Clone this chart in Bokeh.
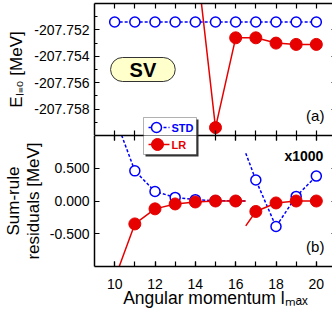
from bokeh.plotting import figure
from bokeh.layouts import column
from bokeh.models import (Range1d, FixedTicker, NumeralTickFormatter, Label, LinearAxis,
                          BoxAnnotation)
from bokeh.embed import file_html
from bokeh.resources import INLINE

FONT = "Liberation Sans"
BLUE = "#0000ff"
RED = "#e60000"

# ---------------- data ----------------
lmax = [10, 11, 12, 13, 14, 15, 16, 17, 18, 19, 20]
e_std = [-207.7514, -207.7514, -207.7514, -207.7514, -207.7514, -207.7514,
         -207.7514, -207.7514, -207.7514, -207.7514, -207.7514]
lr_lmax = [14, 15, 16, 17, 18, 19, 20]
e_lr = [-207.7459, -207.7594, -207.7526, -207.7526, -207.7530, -207.7531, -207.7531]

res_lmax_a = [10, 11, 12, 13, 14, 15, 16]
res_std_a = [1.29, 0.46, 0.145, 0.055, 0.02, 0.005, 0.0]
res_lr_a = [-1.19, -0.35, -0.12, -0.045, -0.015, 0.0, 0.0]
res_lmax_b = [17, 18, 19, 20]
res_std_b = [0.32, -0.39, 0.07, 0.38]
res_lr_b = [-0.16, -0.03, 0.0, 0.0]
# the two line segments stop half way between 16 and 17
break_lmax = 16.5
break_std = [0.0, 0.73]   # end of left segment, start of right segment
break_lr = [0.0, -0.38]

e_ticks = [-207.758, -207.756, -207.754, -207.752]
e_minor = [-207.759, -207.757, -207.755, -207.753, -207.751]
res_ticks = [-0.5, 0.0, 0.5]
x_ticks = [10, 12, 14, 16, 18, 20]
x_all = [10, 11, 12, 13, 14, 15, 16, 17, 18, 19, 20]

X_RANGE = (9, 21)
E_RANGE = (-207.760, -207.750)
RES_RANGE = (-1.0, 1.0)

# ---------------- layout ----------------
LEFT = 88
RIGHT = 2
TOP_B = 3
FW = 242
TOP_FRAME = 132
BOT_FRAME = 131
BOT_B = 44
SX = FW / (X_RANGE[1] - X_RANGE[0])
MID = TOP_B + TOP_FRAME               # page y of panel boundary


def px2x(px):
    return X_RANGE[0] + (px - LEFT) / SX


def x2px(x):
    return LEFT + (x - X_RANGE[0]) * SX


def py2e(py):
    return E_RANGE[1] - (py - TOP_B) / TOP_FRAME * (E_RANGE[1] - E_RANGE[0])


def py2r(py):
    return RES_RANGE[1] - (py - MID) / BOT_FRAME * (RES_RANGE[1] - RES_RANGE[0])


def make_fig(fh, yr, top_b, bot_b):
    p = figure(frame_width=FW, frame_height=fh, x_range=Range1d(*X_RANGE),
               y_range=Range1d(*yr), output_backend="svg", toolbar_location=None,
               x_axis_location=None, y_axis_location=None,
               min_border_left=LEFT, min_border_right=RIGHT,
               min_border_top=top_b, min_border_bottom=bot_b)
    p.grid.visible = False
    p.outline_line_color = None
    p.background_fill_color = "white"
    p.border_fill_color = "white"
    return p


def add_axis(p, loc, ticker, labels, minor_in, fmt=None, standoff=5, **kw):
    ax = LinearAxis(ticker=ticker, axis_line_color="black", axis_line_width=1.5,
                    major_tick_in=5, major_tick_out=0,
                    minor_tick_in=minor_in, minor_tick_out=0,
                    major_tick_line_color="black", minor_tick_line_color="black",
                    major_tick_line_width=1.2, minor_tick_line_width=1.2,
                    major_label_text_font=FONT, major_label_text_color="black",
                    major_label_text_font_size="14px", major_label_standoff=standoff,
                    axis_label_text_font=FONT, axis_label_text_font_style="normal",
                    axis_label_text_color="black", **kw)
    if fmt is not None:
        ax.formatter = fmt
    if not labels:
        ax.major_label_text_font_size = "0px"
        ax.major_label_text_color = None
        ax.major_label_standoff = 0
    p.add_layout(ax, loc)


def label(p, x, y, text, size, color="black", bold=False, align="left",
          baseline="middle", **kw):
    p.add_layout(Label(x=x, y=y, text=text, text_font=FONT, text_font_size=f"{size}px",
                       text_color=color, text_font_style="bold" if bold else "normal",
                       text_align=align, text_baseline=baseline, **kw))


LEG_L = x2px(11.43)
LEG_R = LEG_L + 53
LEG_T, LEG_B = MID - 18, MID + 19


def legend_box(p, ymap, top_px, bot_px):
    p.add_layout(BoxAnnotation(left=px2x(LEG_L + 2), right=px2x(LEG_R + 2),
                               top=ymap(top_px + 2), bottom=ymap(bot_px + 2),
                               fill_color="#333333", fill_alpha=1.0, line_color=None))
    p.add_layout(BoxAnnotation(left=px2x(LEG_L), right=px2x(LEG_R),
                               top=ymap(top_px), bottom=ymap(bot_px),
                               fill_color="white", fill_alpha=1.0,
                               line_color="black", line_width=1))


# ---------------- top panel ----------------
p1 = make_fig(TOP_FRAME, E_RANGE, TOP_B, 0)
xt_top = FixedTicker(ticks=x_all)
et = FixedTicker(ticks=e_ticks, minor_ticks=e_minor)
fmt3 = NumeralTickFormatter(format="0.000")
add_axis(p1, "below", xt_top, False, 0)
add_axis(p1, "above", xt_top, False, 0)
add_axis(p1, "left", et, True, 3, fmt3, axis_label="E\u2097\u208c\u2080 [MeV]",
         axis_label_text_font_size="17px", axis_label_standoff=5)
add_axis(p1, "right", et, False, 3)

p1.line(lmax, e_std, line_color=BLUE, line_width=1.5, line_dash="3 2")
p1.scatter(lmax, e_std, marker="circle", size=10, fill_color="white",
           line_color=BLUE, line_width=1.5)
p1.line(lr_lmax, e_lr, line_color=RED, line_width=1.5)
p1.scatter(lr_lmax, e_lr, marker="circle", size=12, fill_color=RED, line_color=RED)

# legend (upper half)
legend_box(p1, py2e, LEG_T, MID + 30)
y_std = py2e(MID - 8)
label(p1, px2x(LEG_L + 28), y_std, "STD", 11, color=BLUE, bold=True)

# SV box
label(p1, 11.40, -207.7550, "SV", 20, bold=True, align="center",
      background_fill_color="#ffffcc", border_line_color="#333333", border_line_width=1,
      padding=dict(left=19, right=19, top=1, bottom=1), border_radius=12)
label(p1, 20.4, -207.7585, "(a)", 15, align="right")

# ---------------- bottom panel ----------------
p2 = make_fig(BOT_FRAME, RES_RANGE, 0, BOT_B)
xt_bot = FixedTicker(ticks=x_ticks, minor_ticks=x_all)
rt = FixedTicker(ticks=res_ticks, minor_ticks=[])
add_axis(p2, "below", xt_bot, True, 5, standoff=12,
         axis_label="Angular momentum l\u2098\u2090\u2093",
         axis_label_text_font_size="17.5px", axis_label_standoff=-4)
add_axis(p2, "above", xt_bot, False, 5)
add_axis(p2, "left", rt, True, 0, fmt3, axis_label="Sum-rule\nresiduals [MeV]",
         axis_label_text_font_size="17px", axis_label_text_line_height=1.05,
         axis_label_standoff=4)
add_axis(p2, "right", rt, False, 0)

p2.line(res_lmax_a + [break_lmax], res_std_a + [break_std[0]], line_color=BLUE,
        line_width=1.5, line_dash="3 2")
p2.line([break_lmax] + res_lmax_b, [break_std[1]] + res_std_b, line_color=BLUE,
        line_width=1.5, line_dash="3 2")
p2.scatter(res_lmax_a + res_lmax_b, res_std_a + res_std_b, marker="circle", size=10,
           fill_color="white", line_color=BLUE, line_width=1.5)
p2.line(res_lmax_a + [break_lmax], res_lr_a + [break_lr[0]], line_color=RED, line_width=1.5)
p2.line([break_lmax] + res_lmax_b, [break_lr[1]] + res_lr_b, line_color=RED, line_width=1.5)
p2.scatter(res_lmax_a + res_lmax_b, res_lr_a + res_lr_b, marker="circle", size=12,
           fill_color=RED, line_color=RED)

# legend (lower half)
legend_box(p2, py2r, MID - 30, LEG_B)
y_lr = py2r(MID + 9)
label(p2, px2x(LEG_L + 28), y_lr, "LR", 11, color=RED, bold=True)

label(p2, 20.35, py2r(MID + 20), "x1000", 14, bold=True, align="right")
label(p2, 20.4, -0.70, "(b)", 15, align="right")

# legend swatches drawn above the legend boxes
p1.line([px2x(LEG_L + 5), px2x(LEG_L + 26)], [y_std, y_std], line_color=BLUE,
        line_width=1.5, line_dash="3 2", level="overlay")
p1.scatter([px2x(LEG_L + 13)], [y_std], marker="circle", size=10, fill_color="white",
           line_color=BLUE, line_width=1.5, level="overlay")
p2.line([px2x(LEG_L + 5), px2x(LEG_L + 26)], [y_lr, y_lr], line_color=RED, line_width=1.5,
        level="overlay")
p2.scatter([px2x(LEG_L + 14)], [y_lr], marker="circle", size=12, fill_color=RED,
           line_color=RED, level="overlay")

layout = column(p1, p2)
open("out.html", "w").write(file_html(layout, INLINE))
